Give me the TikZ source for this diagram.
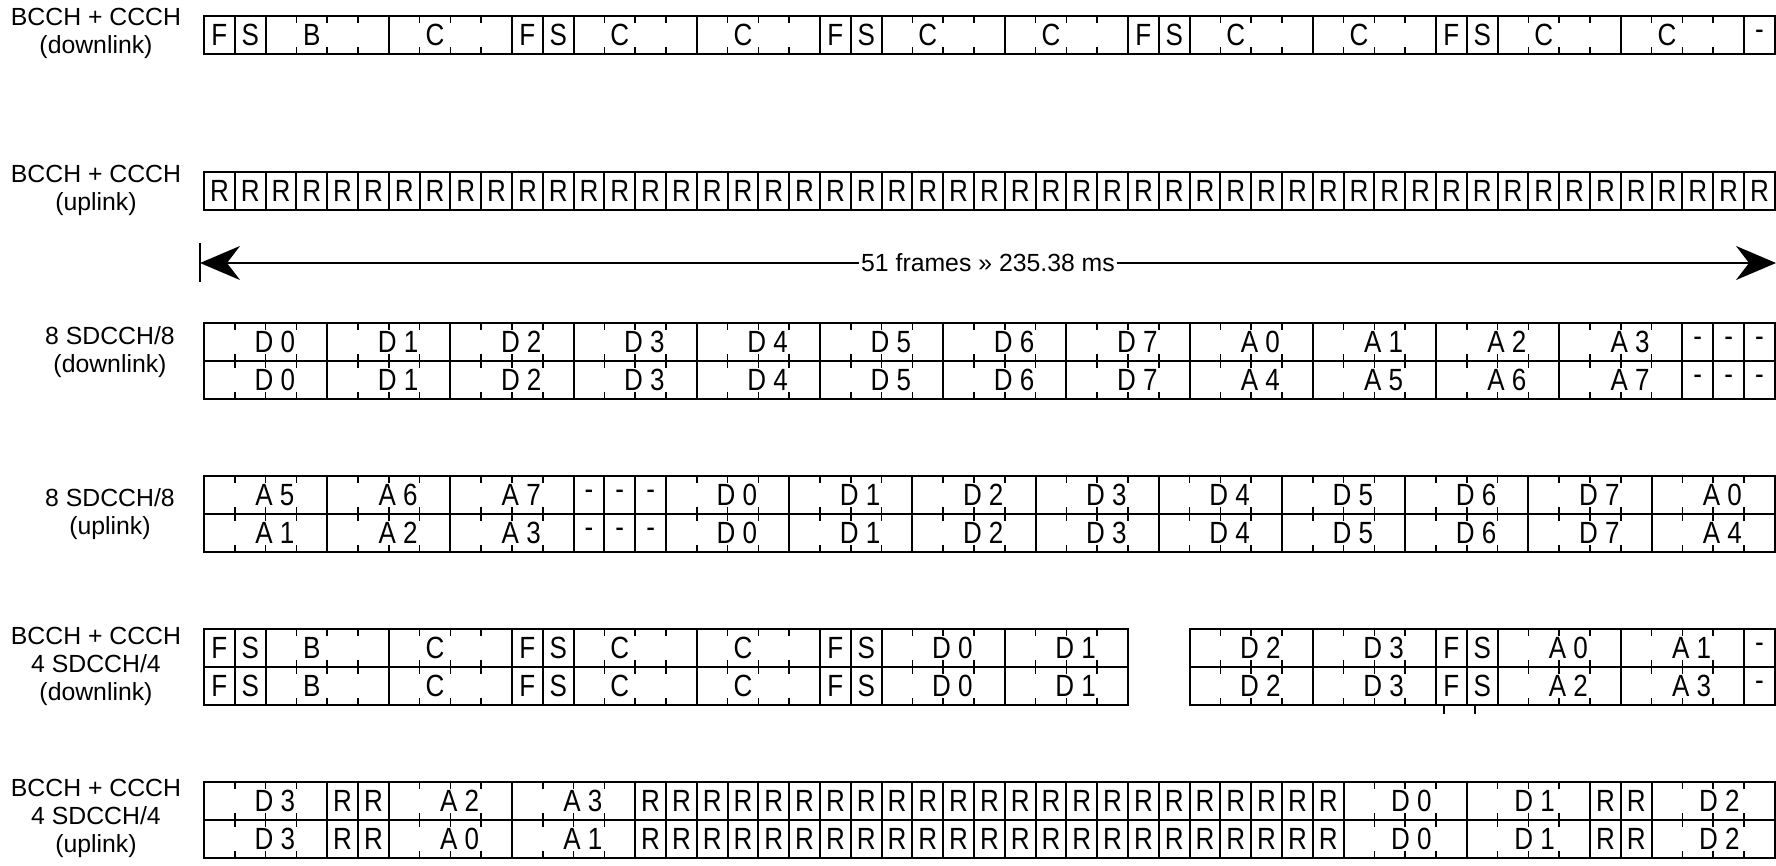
\documentclass[tikz,border=0pt]{standalone}
\usepackage{fontspec}
\setmainfont{Liberation Sans}
\usetikzlibrary{arrows.meta}

\newcommand{\slotw}{30.8}
\newcommand{\rowx}{204}
\newcommand{\tall}[1]{\scalebox{1}[1.18]{#1}}
\newcount\slotpos

\tikzset{
  cell/.style={draw=black,line width=1pt},
  tick/.style={draw=black,line width=0.8pt},
  slotlab/.style={inner sep=0pt,font=\fontsize{13}{14}\selectfont},
  rowlab/.style={align=center,inner sep=0pt},
}

% one-line row: #1 top y, #2 first slot, #3 width/offset/label
\newcommand{\oneline}[3]{%
  \global\slotpos=#2
  \foreach \w/\off/\lab in {#3}{%
    \pgfmathsetmacro\xa{\rowx+\the\slotpos*\slotw}
    \pgfmathsetmacro\xb{\xa+\w*\slotw}
    \pgfmathtruncatemacro\k{\the\slotpos}
    \draw[cell] (\xa,#1) rectangle (\xb,#1+38);
    \ifnum\w>1
      \foreach \j in {1,2,3}{%
        \draw[tick] (\xa+\j*\slotw,#1) -- ++(0,7)
          (\xa+\j*\slotw,#1+38) -- ++(0,-7);
      }
    \fi
    \node[slotlab] (s#1-\k) at (\xa+\off*\slotw,#1+19) {\tall{\lab}};
    \global\advance\slotpos by \w
  }%
}

% two-line row: #1 top y, #2 first slot, #3 width/offset/top/bottom
\newcommand{\twoline}[3]{%
  \global\slotpos=#2
  \foreach \w/\off/\la/\lb in {#3}{%
    \pgfmathsetmacro\xa{\rowx+\the\slotpos*\slotw}
    \pgfmathsetmacro\xb{\xa+\w*\slotw}
    \pgfmathtruncatemacro\k{\the\slotpos}
    \draw[cell] (\xa,#1) rectangle (\xb,#1+76);
    \draw[cell] (\xa,#1+38) -- (\xb,#1+38);
    \ifnum\w>1
      \foreach \j in {1,2,3}{%
        \draw[tick] (\xa+\j*\slotw,#1) -- ++(0,7)
          (\xa+\j*\slotw,#1+31) -- ++(0,14)
          (\xa+\j*\slotw,#1+76) -- ++(0,-7);
      }
    \fi
    \node[slotlab] (t#1-\k) at (\xa+\off*\slotw,#1+19) {\tall{\la}};
    \node[slotlab] (b#1-\k) at (\xa+\off*\slotw,#1+57) {\tall{\lb}};
    \global\advance\slotpos by \w
  }%
}

\begin{document}
\begin{tikzpicture}[x=0.5pt,y=-0.5pt,every node/.style={font=\fontsize{12.4}{14}\selectfont}]
  \useasboundingbox (0,0) rectangle (1776,866);

  % row labels
  \node[rowlab] (lab1) at (96,33) {BCCH + CCCH\\(downlink)};
  \node[rowlab] (lab2) at (96,190) {BCCH + CCCH\\(uplink)};
  \node[rowlab] (lab3) at (110,352) {8 SDCCH/8\\(downlink)};
  \node[rowlab] (lab4) at (110,514) {8 SDCCH/8\\(uplink)};
  \node[rowlab] (lab5) at (96,666) {BCCH + CCCH\\4 SDCCH/4\\(downlink)};
  \node[rowlab] (lab6) at (96,818) {BCCH + CCCH\\4 SDCCH/4\\(uplink)};

  % BCCH + CCCH downlink
  \oneline{16}{0}{1/.5/F, 1/.5/S, 4/1.5/B, 4/1.5/C,
    1/.5/F, 1/.5/S, 4/1.5/C, 4/1.5/C, 1/.5/F, 1/.5/S, 4/1.5/C, 4/1.5/C,
    1/.5/F, 1/.5/S, 4/1.5/C, 4/1.5/C, 1/.5/F, 1/.5/S, 4/1.5/C, 4/1.5/C, 1/.5/-}

  % BCCH + CCCH uplink
  \foreach \i in {0,...,50}{\oneline{172}{\i}{1/.5/R}}

  % 51 frames
  \coordinate (fs) at (200,263);
  \coordinate (fe) at (1776,263);
  \draw[cell] (200,243) -- (200,282);
  \draw[line width=0.75pt,{Stealth[length=20pt,width=17pt]}-{Stealth[length=20pt,width=17pt]}] (fs) -- (fe)
    node[midway,fill=white,inner sep=1pt] (flen) {51 frames » 235.38 ms};

  % 8 SDCCH/8 downlink
  \twoline{323}{0}{4/2.3/D 0/D 0, 4/2.3/D 1/D 1, 4/2.3/D 2/D 2, 4/2.3/D 3/D 3,
    4/2.3/D 4/D 4, 4/2.3/D 5/D 5, 4/2.3/D 6/D 6, 4/2.3/D 7/D 7,
    4/2.3/A 0/A 4, 4/2.3/A 1/A 5, 4/2.3/A 2/A 6, 4/2.3/A 3/A 7,
    1/.5/-/-, 1/.5/-/-, 1/.5/-/-}

  % 8 SDCCH/8 uplink
  \twoline{476}{0}{4/2.3/A 5/A 1, 4/2.3/A 6/A 2, 4/2.3/A 7/A 3,
    1/.5/-/-, 1/.5/-/-, 1/.5/-/-,
    4/2.3/D 0/D 0, 4/2.3/D 1/D 1, 4/2.3/D 2/D 2, 4/2.3/D 3/D 3,
    4/2.3/D 4/D 4, 4/2.3/D 5/D 5, 4/2.3/D 6/D 6, 4/2.3/D 7/D 7,
    4/2.3/A 0/A 4}

  % BCCH + CCCH + 4 SDCCH/4 downlink
  \twoline{629}{0}{1/.5/F/F, 1/.5/S/S, 4/1.5/B/B, 4/1.5/C/C,
    1/.5/F/F, 1/.5/S/S, 4/1.5/C/C, 4/1.5/C/C,
    1/.5/F/F, 1/.5/S/S, 4/2.3/D 0/D 0, 4/2.3/D 1/D 1}
  \twoline{629}{32}{4/2.3/D 2/D 2, 4/2.3/D 3/D 3, 1/.5/F/F, 1/.5/S/S,
    4/2.3/A 0/A 2, 4/2.3/A 1/A 3, 1/.5/-/-}
  \draw[tick] (1444,705) -- ++(0,9) (1475,705) -- ++(0,9);

  % BCCH + CCCH + 4 SDCCH/4 uplink
  \twoline{782}{0}{4/2.3/D 3/D 3, 1/.5/R/R, 1/.5/R/R,
    4/2.3/A 2/A 0, 4/2.3/A 3/A 1}
  \foreach \i in {14,...,36}{\twoline{782}{\i}{1/.5/R/R}}
  \twoline{782}{37}{4/2.2/D 0/D 0, 4/2.2/D 1/D 1, 1/.5/R/R, 1/.5/R/R,
    4/2.2/D 2/D 2}
\end{tikzpicture}
\end{document}
